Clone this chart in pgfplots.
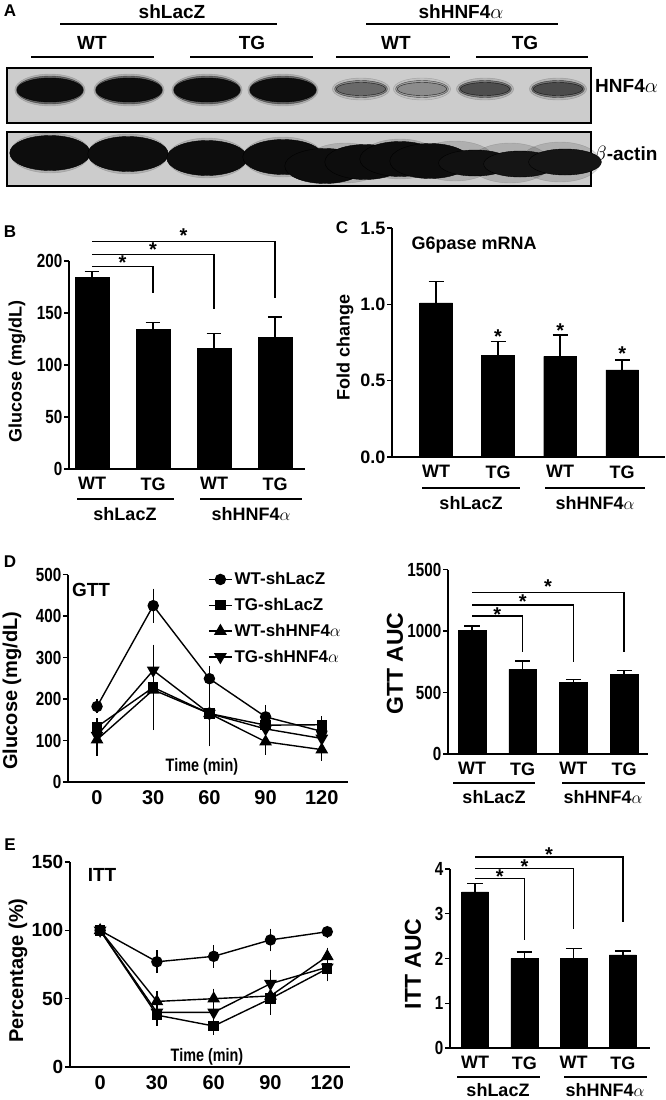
\documentclass[border=0pt]{standalone}
\usepackage{pgfplots}
\pgfplotsset{compat=1.18}
\usepackage{fontspec}
\setmainfont{Liberation Sans}
\newfontfamily\nf[FakeStretch=0.8]{Liberation Sans}
\newcommand{\fs}[1]{\fontsize{#1bp}{#1bp}\selectfont\bfseries}
\tikzset{st/.style={font=\fs{20}, anchor=base, inner sep=0pt, yshift=-10bp}}
\pgfplotsset{
 gp/.style={scale only axis, anchor=south west, clip=false,
  axis x line*=bottom, axis y line*=left,
  axis line style={line width=1.4bp},
  every tick/.style={black, line width=1.4bp},
  tick align=outside, major tick length=5bp,
  /pgf/number format/assume math mode=true,
  /pgf/number format/1000 sep={},
  xticklabel style={font=\fs{18}},
  yticklabel style={font=\nf\fs{19}, inner sep=1.5bp},
  ylabel style={font=\fs{18}},
  xtick style={draw=none}},
 bars/.style={gp, xtick={1,2,3,4}, xticklabels={WT,TG,WT,TG}, ymin=0},
 bp/.style={ybar, fill=black, draw=black, bar width=#1},
 eb/.style={forget plot, black, line width=1.5bp, mark=none, unbounded coords=jump},
 br/.style={black, line width=1.4bp, mark=none},
 ln/.style={black, line width=1.4bp, mark options={fill=black, draw=black, solid},
  error bars/y dir=both, error bars/y explicit,
  error bars/error bar style={line width=1.3bp, black},
  error bars/error mark options={line width=1.3bp, black, mark size=4.5bp}},
 band/.style={scatter, only marks, mark=*, point meta=explicit,
  scatter/use mapped color={draw=none, fill=mapped color}},
}
\begin{document}
\begin{tikzpicture}[x=1bp,y=1bp]
\path[use as bounding box] (0,0) rectangle (666,-1100);

% ---------------- Panel A ----------------
\node[font=\fs{17}] at (10,-11) {A};
\node[font=\fs{19}] at (172,-12) {shLacZ};
\node[font=\fs{19}] at (461,-12) {shHNF4$\alpha$};
\draw[line width=1.4bp] (60,-24) -- (277,-24);
\draw[line width=1.4bp] (366,-24) -- (558,-24);
\node[font=\fs{19}] at (92,-43) {WT};
\node[font=\fs{19}] at (252,-43) {TG};
\node[font=\fs{19}] at (396,-43) {WT};
\node[font=\fs{19}] at (525,-43) {TG};
\draw[line width=1.4bp] (31,-57) -- (154,-57);
\draw[line width=1.4bp] (190,-57) -- (313,-57);
\draw[line width=1.4bp] (336,-57) -- (450,-57);
\draw[line width=1.4bp] (476,-57) -- (588,-57);
\node[font=\fs{19}, anchor=west, inner sep=0] at (595,-86) {HNF4$\alpha$};
\node[font=\fs{19}, anchor=west, inner sep=0] at (594,-155) {$\beta$-actin};

\begin{axis}[at={(7bp,-186bp)}, anchor=south west, scale only axis, width=584bp, height=118bp,
  xmin=7, xmax=591, ymin=-186, ymax=-68, hide axis, clip=false,
  colormap={blot}{color=(gray!42) color=(black!95)}, point meta min=0, point meta max=1]
\fill[gray!40] (axis cs:7,-123) rectangle (axis cs:591,-68);
\fill[gray!40] (axis cs:7,-186) rectangle (axis cs:591,-132);
% HNF4a dark bands
\addplot[band, mark size=16bp, mark options={xscale=2.2}, opacity=0.15] coordinates {(50,-90) [1] (129,-90) [1] (207,-90) [1] (283,-90) [1]};
\addplot[band, mark size=14bp, mark options={xscale=2.4}, opacity=0.45] coordinates {(50,-90) [1] (129,-90) [1] (207,-90) [1] (283,-90) [1]};
\addplot[band, mark size=12bp, mark options={xscale=2.75}] coordinates {(50,-90) [1] (129,-90) [1] (207,-90) [1] (283,-90) [1]};
% HNF4a light bands
\addplot[band, mark size=11bp, mark options={xscale=2.6}, opacity=0.2] coordinates {(361,-89) [0.45] (422,-89) [0.3] (485,-89) [0.6] (558,-89) [0.6]};
\addplot[band, mark size=8.5bp, mark options={xscale=3.1}, opacity=0.6] coordinates {(361,-89) [0.5] (422,-89) [0.3] (485,-89) [0.65] (558,-89) [0.65]};
\addplot[band, mark size=6.5bp, mark options={xscale=3.8}, opacity=0.8] coordinates {(361,-89) [0.55] (422,-89) [0.35] (485,-89) [0.7] (558,-89) [0.72]};
% beta-actin
\addplot[band, mark size=20bp, mark options={xscale=2.0}, opacity=0.15] coordinates {(50,-153) [1] (128,-154) [1] (207,-158) [1] (283,-157) [1] (345,-163) [1] (400,-159) [1] (455,-161) [1] (510,-163) [1] (560,-162) [1]};
\addplot[band, mark size=17.5bp, mark options={xscale=2.3}] coordinates {(50,-153) [1] (128,-154) [1] (207,-158) [1] (283,-157) [1] (325,-166) [1] (365,-162) [1] (400,-159) [1] (430,-161) [1]};
\addplot[band, mark size=13bp, mark options={xscale=2.8}] coordinates {(475,-163) [0.97] (520,-164) [0.95] (565,-162) [0.95]};
\draw[line width=1.4bp] (axis cs:7,-123) rectangle (axis cs:591,-68);
\draw[line width=1.4bp] (axis cs:7,-186) rectangle (axis cs:591,-132);
\end{axis}

% ---------------- Panel B ----------------
\node[font=\fs{17}] at (10,-232) {B};
\begin{axis}[bars, at={(69bp,-469bp)}, width=236bp, height=208bp,
  xmin=0.623, xmax=4.49, ymax=200, ytick={0,50,...,200},
  ylabel={Glucose (mg/dL)}, ylabel style={at={(axis description cs:-0.22,0.47)}, anchor=center}]
\addplot[bp=0.55] coordinates {(1,184) (2,134) (3,116) (4,126.6)};
% error bars (mean + SEM)
\addplot[eb] coordinates {(1,184) (1,190) (nan,nan) (0.88,190) (1.12,190) (nan,nan)
  (2,134) (2,141) (nan,nan) (1.88,141) (2.12,141) (nan,nan)
  (3,116) (3,130.5) (nan,nan) (2.88,130.5) (3.12,130.5) (nan,nan)
  (4,126.6) (4,146) (nan,nan) (3.88,146) (4.12,146)};
\addplot[br] coordinates {(1,195) (2,195) (2,169)};
\addplot[br] coordinates {(1,206) (3,206) (3,154)};
\addplot[br] coordinates {(1,219) (4,219) (4,164)};
\node[st] at (axis cs:1.5,201) {*};
\node[st] at (axis cs:2.0,214) {*};
\node[st] at (axis cs:2.5,227) {*};
\end{axis}
\draw[line width=1.4bp] (77,-499) -- (174,-499);
\draw[line width=1.4bp] (200,-499) -- (302,-499);
\node[font=\fs{18}] at (125,-514) {shLacZ};
\node[font=\fs{18}] at (251,-514) {shHNF4$\alpha$};

% ---------------- Panel C ----------------
\node[font=\fs{17}] at (342,-228) {C};
\begin{axis}[bars, at={(392bp,-457bp)}, width=273bp, height=229bp,
  xmin=0.29, xmax=4.69, ymax=1.5, ytick={0,0.5,1,1.5},
  yticklabel style={font=\fs{18}, /pgf/number format/.cd, fixed, fixed zerofill, precision=1},
  ylabel={Fold change}, ylabel style={at={(axis description cs:-0.172,0.48)}, anchor=center}]
\addplot[bp=0.53] coordinates {(1,1.01) (2,0.668) (3,0.66) (4,0.57)};
\addplot[eb] coordinates {(1,1.01) (1,1.15) (nan,nan) (0.88,1.15) (1.12,1.15) (nan,nan)
  (2,0.668) (2,0.755) (nan,nan) (1.88,0.755) (2.12,0.755) (nan,nan)
  (3,0.66) (3,0.80) (nan,nan) (2.88,0.80) (3.12,0.80) (nan,nan)
  (4,0.57) (4,0.635) (nan,nan) (3.88,0.635) (4.12,0.635)};
\node[st] at (axis cs:2,0.81) {*};
\node[st] at (axis cs:3,0.85) {*};
\node[st] at (axis cs:4,0.70) {*};
\node[font=\fs{18}, anchor=west] at (axis cs:0.55,1.39) {G6pase mRNA};
\end{axis}
\draw[line width=1.4bp] (422,-488) -- (520,-488);
\draw[line width=1.4bp] (545,-488) -- (645,-488);
\node[font=\fs{18}] at (471,-503) {shLacZ};
\node[font=\fs{18}] at (595,-503) {shHNF4$\alpha$};

% ---------------- Panel D (GTT) ----------------
\node[font=\fs{17}] at (10,-562) {D};
\begin{axis}[gp, at={(68bp,-782bp)}, width=280bp, height=207.5bp,
  xmin=-15.5, xmax=134, ymin=0, ymax=500, xtick={0,30,60,90,120}, ytick={0,100,...,500},
  xticklabel style={font=\fs{20}},
  ylabel={Glucose (mg/dL)}, ylabel style={font=\fs{20}, at={(axis description cs:-0.2,0.44)}, anchor=center},
  legend style={at={(0.5,1.02)}, anchor=north west, draw=none, fill=none, font=\fs{17},
    inner sep=0pt, row sep=8bp, cells={anchor=west}},
  legend image code/.code={\draw[mark repeat=2, mark phase=2] plot coordinates {(0bp,0bp) (11.5bp,0bp) (23bp,0bp)};}]
\addplot[ln, mark=*, mark size=5bp] coordinates {(0,182) +- (0,6) (30,425) +- (0,30) (60,249) +- (0,20) (90,157) +- (0,18) (120,122) +- (0,8)};
\addlegendentry{WT-shLacZ}
\addplot[ln, mark=square*, mark size=4.5bp] coordinates {(0,133) +- (0,10) (30,228) +- (0,92) (60,165) +- (0,15) (90,137) +- (0,12) (120,138) +- (0,10)};
\addlegendentry{TG-shLacZ}
\addplot[ln, mark=triangle*, mark size=6bp] coordinates {(0,102) +- (0,28) (30,222) +- (0,25) (60,165) +- (0,68) (90,97) +- (0,20) (120,78) +- (0,16)};
\addlegendentry{WT-shHNF4$\alpha$}
\addplot[ln, mark=triangle*, mark size=6bp, mark options={rotate=180}] coordinates {(0,112) +- (0,10) (30,269) +- (0,50) (60,165) +- (0,15) (90,128) +- (0,12) (120,105) +- (0,10)};
\addlegendentry{TG-shHNF4$\alpha$}
\end{axis}
\node[font=\fs{19}] at (91,-590) {GTT};
\node[font=\nf\fs{18}] at (202,-767) {Time (min)};

% ---------------- GTT AUC ----------------
\begin{axis}[bars, at={(448bp,-754bp)}, width=200bp, height=184.5bp,
  xmin=0.527, xmax=4.47, ymax=1500, ytick={0,500,1000,1500},
  ylabel={GTT AUC}, ylabel style={font=\fs{23}, at={(axis description cs:-0.265,0.49)}, anchor=center}]
\addplot[bp=0.55] coordinates {(1,1008) (2,689) (3,580) (4,650)};
\addplot[eb] coordinates {(1,1008) (1,1041) (nan,nan) (0.85,1041) (1.15,1041) (nan,nan)
  (2,689) (2,756) (nan,nan) (1.85,756) (2.15,756) (nan,nan)
  (3,580) (3,607) (nan,nan) (2.85,607) (3.15,607) (nan,nan)
  (4,650) (4,677) (nan,nan) (3.85,677) (4.15,677)};
\addplot[br] coordinates {(1,1122) (2,1122) (2,832)};
\addplot[br] coordinates {(1,1211) (3,1211) (3,750)};
\addplot[br] coordinates {(1,1311) (4,1311) (4,832)};
\node[st] at (axis cs:1.5,1157) {*};
\node[st] at (axis cs:2.0,1265) {*};
\node[st] at (axis cs:2.5,1385) {*};
\end{axis}
\draw[line width=1.4bp] (453,-783) -- (535,-783);
\draw[line width=1.4bp] (562,-783) -- (645,-783);
\node[font=\fs{18}] at (494,-797) {shLacZ};
\node[font=\fs{18}] at (603,-797) {shHNF4$\alpha$};

% ---------------- Panel E (ITT) ----------------
\node[font=\fs{17}] at (10,-845) {E};
\begin{axis}[gp, at={(70bp,-1067bp)}, width=280bp, height=205bp,
  xmin=-15.9, xmax=132, ymin=0, ymax=150, xtick={0,30,60,90,120}, ytick={0,50,100,150},
  xticklabel style={font=\fs{20}}, yticklabel style={font=\fs{19}},
  ylabel={Percentage (\%)}, ylabel style={font=\fs{20}, at={(axis description cs:-0.186,0.47)}, anchor=center}]
\addplot[ln, mark=*, mark size=5bp] coordinates {(0,100) +- (0,0) (30,77) +- (0,5) (60,81) +- (0,5) (90,93) +- (0,5) (120,99) +- (0,1)};
\addplot[ln, mark=square*, mark size=4.5bp] coordinates {(0,100) +- (0,0) (30,38) +- (0,4.5) (60,30) +- (0,3) (90,50) +- (0,8.5) (120,72) +- (0,6)};
\addplot[ln, mark=triangle*, mark size=6bp] coordinates {(0,100) +- (0,0) (30,48) +- (0,4) (60,50) +- (0,4) (90,52) +- (0,4) (120,81) +- (0,3)};
\addplot[ln, mark=triangle*, mark size=6bp, mark options={rotate=180}] coordinates {(0,100) +- (0,0) (30,40) +- (0,4) (60,40) +- (0,3) (90,61) +- (0,7) (120,73) +- (0,4)};
\end{axis}
\node[font=\fs{19}] at (102,-875) {ITT};
\node[font=\nf\fs{18}] at (207,-1057) {Time (min)};

% ---------------- ITT AUC ----------------
\begin{axis}[bars, at={(450bp,-1048bp)}, width=200bp, height=179bp,
  xmin=0.49, xmax=4.55, ymax=4, ytick={0,1,2,3,4},
  ylabel={ITT AUC}, ylabel style={font=\fs{23}, at={(axis description cs:-0.185,0.47)}, anchor=center}]
\addplot[bp=0.55] coordinates {(1,3.49) (2,2.0) (3,2.0) (4,2.08)};
\addplot[eb] coordinates {(1,3.49) (1,3.68) (nan,nan) (0.84,3.68) (1.16,3.68) (nan,nan)
  (2,2.0) (2,2.15) (nan,nan) (1.84,2.15) (2.16,2.15) (nan,nan)
  (3,2.0) (3,2.22) (nan,nan) (2.84,2.22) (3.16,2.22) (nan,nan)
  (4,2.08) (4,2.17) (nan,nan) (3.84,2.17) (4.16,2.17)};
\addplot[br] coordinates {(1,3.79) (2,3.79) (2,2.41)};
\addplot[br] coordinates {(1,4.01) (3,4.01) (3,2.67)};
\addplot[br] coordinates {(1,4.27) (4,4.27) (4,2.82)};
\node[st] at (axis cs:1.5,3.9) {*};
\node[st] at (axis cs:2.0,4.13) {*};
\node[st] at (axis cs:2.5,4.39) {*};
\end{axis}
\draw[line width=1.4bp] (457,-1077) -- (540,-1077);
\draw[line width=1.4bp] (564,-1077) -- (647,-1077);
\node[font=\fs{18}, inner sep=1bp] at (498,-1090) {shLacZ};
\node[font=\fs{18}, inner sep=1bp] at (605,-1090) {shHNF4$\alpha$};
\end{tikzpicture}
\end{document}
